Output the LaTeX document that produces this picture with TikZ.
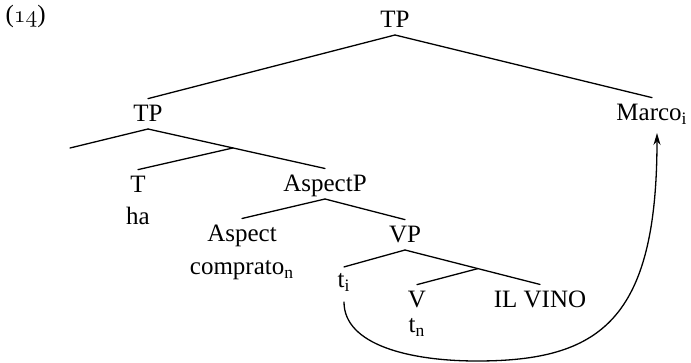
\documentclass[tikz,border=0pt]{standalone}
\usepackage{fontspec}
\setmainfont{Liberation Serif}
\usetikzlibrary{arrows.meta}
\begin{document}
\begin{tikzpicture}[x=0.5pt, y=-0.5pt, line join=round, line cap=round, >={Stealth[length=6pt,width=3.5pt]}, line width=0.65pt, font=\fontsize{12.5}{15}\selectfont]
            \tikzset{tree label/.style={anchor=base, inner sep=0pt, outer sep=3.5pt, text depth=0pt}}
            \useasboundingbox (0,0) rectangle (691,363);
            \node[anchor=base west, inner sep=0pt] (ex) at (5,22.5) {(\ensuremath{\mathnormal{14}})};
            \node[tree label] (TP) at (395,28) {TP};
            \node[tree label] (TPb) at (148,122) {TP};
            \node[tree label] (Marco) at (652,121) {Marco\textsubscript{i}};
            \node[tree label] (T) at (138,193) {T};
            \node[tree label] (ha) at (138,225) {ha};
            \node[tree label] (AspectP) at (325,192) {AspectP};
            \node[tree label] (Aspect) at (242,242) {Aspect};
            \node[tree label] (comprato) at (242,275) {comprato\textsubscript{n}};
            \node[tree label] (VP) at (405,243) {VP};
            \node[tree label] (ti) at (344,288) {t\textsubscript{i}};
            \node[tree label] (V) at (417,308) {V};
            \node[tree label] (tn) at (417,333) {t\textsubscript{n}};
            \node[tree label] (vino) at (540,308) {IL VINO};
            \coordinate (gap) at (70,148);
            \coordinate (bottom) at (477,361);
            \draw (TP.south) -- (TPb.north);
            \draw (TP.south) -- (Marco.north);
            \draw (TPb.south) -- (gap);
            \draw (TPb.south) -- coordinate[pos=0.48] (Tbar) (AspectP.north);
            \draw (Tbar) -- (T.north);
            \draw (AspectP.south) -- (Aspect.north);
            \draw (AspectP.south) -- (VP.north);
            \draw (VP.south) -- (ti.north);
            \draw (VP.south) -- coordinate[pos=0.54] (Vbar) (vino.north);
            \draw (Vbar) -- (V.north);
            % movement of the subject
            \draw[->] ([yshift=-3.5pt]ti.south) .. controls +(0,43) and +(-67,0) .. (bottom)
                .. controls +(123,0) and +(0,187) .. ([xshift=2.5pt,yshift=-2.5pt]Marco.south);
        \end{tikzpicture}
\end{document}
